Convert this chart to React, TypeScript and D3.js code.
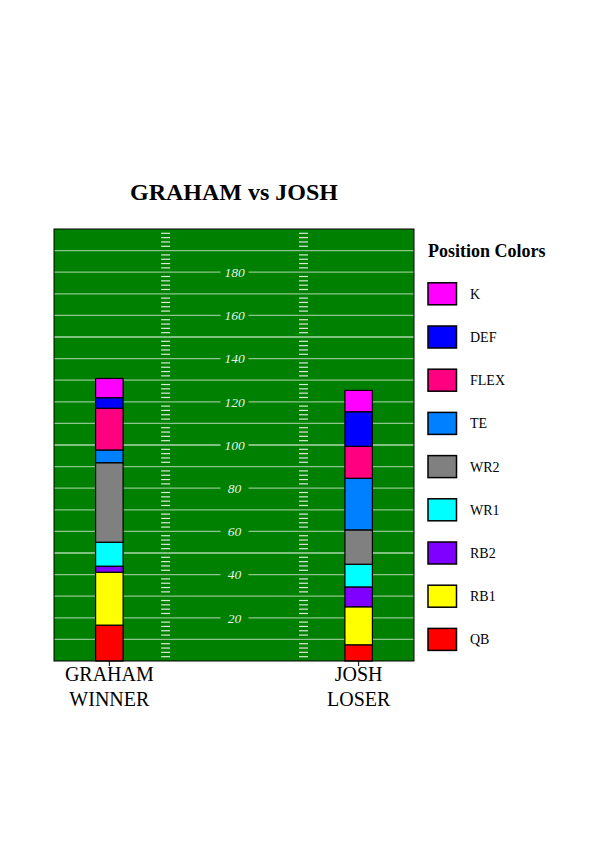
import React, { useEffect, useRef } from 'react';
import * as d3 from 'd3';

const teams = ["GRAHAM", "JOSH"];
const outcomes = ["WINNER", "LOSER"];
const positions = ["QB", "RB1", "RB2", "WR1", "WR2", "TE", "FLEX", "DEF", "K"];
const positionColors = ["#ff0000", "#ffff00", "#8000ff", "#00ffff", "#808080", "#0080ff", "#ff0080", "#0000ff", "#ff00ff"];
const grahamPoints = [16.6, 24.5, 2.8, 11.1, 36.8, 5.9, 19.3, 4.9, 8.9];
const joshPoints = [7.5, 17.6, 9.2, 10.5, 15.9, 23.9, 14.8, 16.0, 9.9];
const yTickLabels = [20, 40, 60, 80, 100, 120, 140, 160, 180];
const hashColumns = [0.31, 0.693];

const FONT = "'Liberation Serif', 'Times New Roman', serif";

export default function App() {
  const svgRef = useRef<SVGSVGElement>(null);
  const width = 595;
  const height = 842;

  useEffect(() => {
    if (!svgRef.current) return;
    const svg = d3.select(svgRef.current);
    svg.selectAll("*").remove();

    const margin = { top: 229, left: 54, right: 181, bottom: 181 };
    const iWidth = width - margin.left - margin.right;
    const iHeight = height - margin.top - margin.bottom;
    const field = "#008000";

    const rows = teams.map((t, i) => {
      const vals = i === 0 ? grahamPoints : joshPoints;
      const r: any = { team: t };
      positions.forEach((p, j) => (r[p] = vals[j]));
      return r;
    });
    const series = d3.stack<any>().keys(positions)(rows);

    const x = d3.scalePoint<string>().domain(teams).range([0, iWidth]).padding(0.222);
    const y = d3.scaleLinear().domain([0, 200]).range([iHeight, 0]);
    const barW = 27.5;

    svg.append("text").attr("x", margin.left + iWidth / 2).attr("y", 200).attr("text-anchor", "middle")
      .style("font-family", FONT).style("font-weight", "bold").style("font-size", "24px").text("GRAHAM vs JOSH");

    const g = svg.append("g").attr("transform", `translate(${margin.left},${margin.top})`);
    g.append("rect").attr("width", iWidth).attr("height", iHeight).attr("fill", field);

    // yard lines
    const lines = d3.range(10, 200, 10);
    g.selectAll("line.yard").data(lines).enter().append("line").attr("class", "yard")
      .attr("x1", 0).attr("x2", iWidth).attr("y1", d => y(d)).attr("y2", d => y(d))
      .attr("stroke", "#fff").attr("stroke-width", 1.2).attr("stroke-opacity", d => (d % 50 === 0 ? 1 : 0.55));

    // hash marks
    const hashes = d3.range(2, 200, 2).filter(v => v % 10 !== 0);
    hashColumns.forEach(c => {
      g.selectAll(null).data(hashes).enter().append("line")
        .attr("x1", c * iWidth - 4.5).attr("x2", c * iWidth + 4.5)
        .attr("y1", d => y(d)).attr("y2", d => y(d))
        .attr("stroke", "#fff").attr("stroke-width", 1.2).attr("stroke-opacity", 0.85);
    });

    // yard numbers
    const lab = g.selectAll("g.num").data(yTickLabels).enter().append("g").attr("class", "num")
      .attr("transform", d => `translate(${iWidth * 0.5 + 0.5},${y(d)})`);
    lab.append("rect").attr("x", -14).attr("y", -3).attr("width", 28).attr("height", 6).attr("fill", field);
    lab.append("text").attr("text-anchor", "middle").attr("dy", "0.35em").attr("fill", "#fff").attr("fill-opacity", 0.92)
      .style("font-family", FONT).style("font-style", "italic").style("font-size", "13.5px").text(d => d);

    // stacked bars
    series.forEach((s, i) => {
      g.selectAll(null).data(s).enter().append("rect")
        .attr("x", d => (x(d.data.team) as number) - barW / 2).attr("width", barW)
        .attr("y", d => y(d[1])).attr("height", d => y(d[0]) - y(d[1]))
        .attr("fill", positionColors[i]).attr("stroke", "#000").attr("stroke-width", 1.2);
    });

    g.append("rect").attr("width", iWidth).attr("height", iHeight).attr("fill", "none").attr("stroke", "#000").attr("stroke-width", 1);

    // x axis
    const xa = g.append("g").attr("transform", `translate(0,${iHeight})`);
    teams.forEach((t, i) => {
      xa.append("line").attr("x1", x(t) as number).attr("x2", x(t) as number).attr("y1", 0).attr("y2", 5).attr("stroke", "#000");
      const tx = xa.append("text").attr("text-anchor", "middle").style("font-family", FONT).style("font-size", "20px");
      tx.append("tspan").attr("x", x(t) as number).attr("y", 20).text(t);
      tx.append("tspan").attr("x", x(t) as number).attr("y", 45).text(outcomes[i]);
    });

    // legend
    const lg = svg.append("g").attr("transform", `translate(428,${margin.top})`);
    lg.append("text").attr("x", 0).attr("y", y(190)).attr("dy", "0.35em")
      .style("font-family", FONT).style("font-weight", "bold").style("font-size", "18px").text("Position Colors");
    positions.forEach((p, i) => {
      const cy = y(10 + 20 * i);
      lg.append("rect").attr("x", 0).attr("y", cy - 11).attr("width", 28.5).attr("height", 22)
        .attr("fill", positionColors[i]).attr("stroke", "#000").attr("stroke-width", 1.5);
      lg.append("text").attr("x", 42).attr("y", cy).attr("dy", "0.35em")
        .style("font-family", FONT).style("font-size", "14px").text(p);
    });
  }, []);

  return (
    <svg ref={svgRef} width={width} height={height} viewBox={`0 0 ${width} ${height}`}
      style={{ position: "absolute", left: 0, top: 0, background: "#fff" }} />
  );
}
